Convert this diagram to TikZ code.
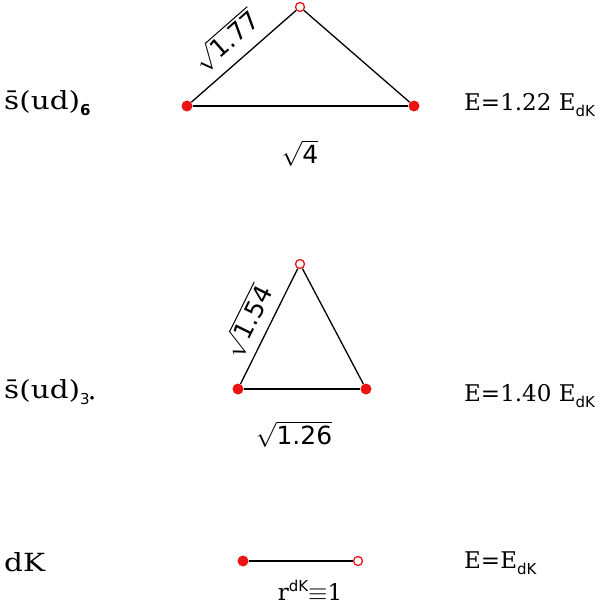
\documentclass[tikz,border=0pt]{standalone}
\usepackage{fontspec}
\setmainfont{DejaVu Serif}
\newfontfamily\subfont{DejaVu Sans}
\definecolor{dotred}{RGB}{235,20,20}
\newcommand{\subtxt}[1]{\raisebox{-6pt}{\fontsize{15}{15}\selectfont\subfont #1}}
\newcommand{\wide}[1]{\scalebox{1.18}[1]{#1}}
\begin{document}
\begin{tikzpicture}[x=1pt,y=-1pt,
  full/.style={circle,fill=dotred,inner sep=0pt,minimum size=11pt},
  hollow/.style={circle,draw=dotred,fill=white,line width=1.3pt,inner sep=0pt,minimum size=9pt},
  edge/.style={line width=1.3pt,black},
  lab/.style={font=\fontsize{23}{27}\selectfont,inner sep=2pt},
  big/.style={font=\fontsize{25}{29}\selectfont,inner sep=2pt},
  root/.style={font=\fontsize{25}{29}\selectfont,inner sep=2pt}]
\useasboundingbox (0,0) rectangle (603,612);
% top triangle
\node[full] (a1) at (187,106) {};
\node[full] (a2) at (414,106) {};
\node[hollow] (a3) at (300,7) {};
\draw[edge] (a1) -- (a2);
\draw[edge] (a1) -- node[root,sloped,above=8pt,pos=0.48] {$\sqrt{\mbox{\subfont 1.77}}$} (a3);
\draw[edge] (a3) -- (a2);
\node[root] (l1) at (300,153) {$\sqrt{\mbox{\subfont 4}}$};
\node[big,anchor=west] (n1) at (2,103) {\wide{\={s}(ud)}\subtxt{\bfseries 6}};
\node[lab,anchor=west] (e1) at (462,105) {E=1.22 E\subtxt{dK}};
% middle triangle
\node[full] (b1) at (238,389) {};
\node[full] (b2) at (366,389) {};
\node[hollow] (b3) at (300,264) {};
\draw[edge] (b1) -- (b2);
\draw[edge] (b1) -- node[root,sloped,above=6pt,pos=0.46] {$\sqrt{\mbox{\subfont 1.54}}$} (b3);
\draw[edge] (b3) -- (b2);
\node[root] (l2) at (294,434) {$\sqrt{\mbox{\subfont 1.26}}$};
\node[big,anchor=west] (n2) at (2,392) {\wide{\={s}(ud)}\subtxt{3\raisebox{4pt}{\fontsize{9}{9}\selectfont$\bullet$}}};
\node[lab,anchor=west] (e2) at (462,396) {E=1.40 E\subtxt{dK}};
% bottom
\node[full] (c1) at (243,561) {};
\node[hollow] (c2) at (358,561) {};
\draw[edge] (c1) -- (c2);
\node[lab] (l3) at (310,590) {r\raisebox{9pt}{\fontsize{15}{15}\selectfont\subfont dK}$\equiv$1};
\node[big,anchor=west] (n3) at (2,562) {\wide{dK}};
\node[lab,anchor=west] (e3) at (462,563) {E=E\subtxt{dK}};
\end{tikzpicture}
\end{document}
